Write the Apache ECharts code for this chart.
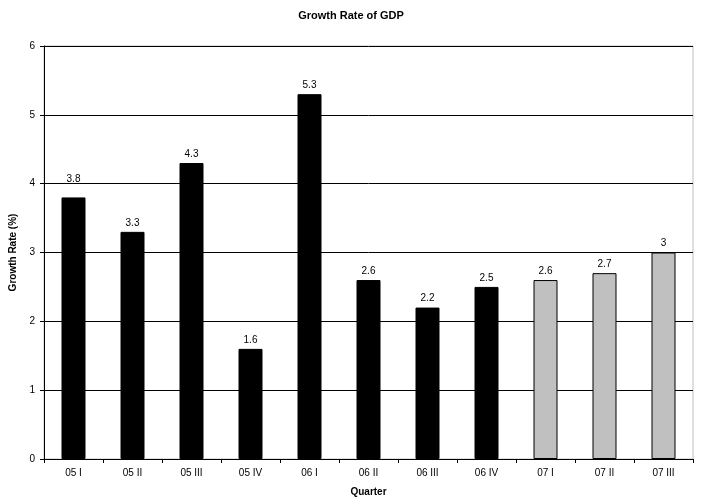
<!DOCTYPE html>
<html>
<head>
<meta charset="utf-8">
<script src="https://cdn.jsdelivr.net/npm/echarts@6/dist/echarts.min.js"></script>
<style>html,body{margin:0;padding:0;background:#fff;overflow:hidden;}#c{width:702px;height:502px;}</style>
</head>
<body>
<div id="c"></div>
<script>
const categories = ["05 I","05 II","05 III","05 IV","06 I","06 II","06 III","06 IV","07 I","07 II","07 III"];
const actualValues = [3.8, 3.3, 4.3, 1.6, 5.3, 2.6, 2.2, 2.5];
const projectedValues = [2.6, 2.7, 3];
const yTicks = [0, 1, 2, 3, 4, 5, 6];

const font = 'Liberation Sans, Arial, sans-serif';
const labelCfg = { show: true, position: 'top', distance: 4, fontFamily: font, fontSize: 10, color: '#000' };

// the first label sits a little higher in the original
const actualData = categories.map((c, i) => {
  if (i >= actualValues.length) return '-';
  if (i === 0) return { value: actualValues[i], label: { offset: [0, -9] } };
  return actualValues[i];
});
const projectedData = categories.map((c, i) => i >= actualValues.length ? projectedValues[i - actualValues.length] : '-');

const chart = echarts.init(document.getElementById('c'), null, { renderer: 'canvas' });
chart.setOption({
  animation: false,
  backgroundColor: '#fff',
  title: {
    text: 'Growth Rate of GDP', left: 'center', top: 5,
    textStyle: { fontFamily: font, fontSize: 11, fontWeight: 'bold', color: '#000' }
  },
  grid: { left: 44, right: 9, top: 46, bottom: 38, containLabel: false, show: true, borderColor: '#c0c0c0', borderWidth: 1, backgroundColor: 'transparent' },
  xAxis: {
    type: 'category', data: categories,
    name: 'Quarter', nameLocation: 'middle', nameGap: 28,
    nameTextStyle: { fontFamily: font, fontSize: 10, fontWeight: 'bold', color: '#000' },
    axisLine: { lineStyle: { color: '#000', width: 1 } },
    axisTick: { show: true, alignWithLabel: false, length: 4, lineStyle: { color: '#000' } },
    axisLabel: { fontFamily: font, fontSize: 10, color: '#000', margin: 9, interval: 0 }
  },
  yAxis: {
    type: 'value', min: yTicks[0], max: yTicks[yTicks.length - 1], interval: 1,
    name: 'Growth Rate (%)', nameLocation: 'middle', nameGap: 20,
    nameTextStyle: { fontFamily: font, fontSize: 10, fontWeight: 'bold', color: '#000' },
    axisLine: { show: true, lineStyle: { color: '#000', width: 1 } },
    axisTick: { show: true, length: 4, lineStyle: { color: '#000' } },
    axisLabel: { fontFamily: font, fontSize: 10, color: '#000', margin: 9 },
    splitLine: { show: true, lineStyle: { color: '#000', width: 1 } }
  },
  series: [
    {
      type: 'bar', data: actualData, barWidth: 24, barGap: '-100%',
      itemStyle: { color: '#000', borderColor: '#000', borderWidth: 1 },
      label: labelCfg
    },
    {
      type: 'bar', data: projectedData, barWidth: 24, barGap: '-100%',
      itemStyle: { color: '#c0c0c0', borderColor: '#000', borderWidth: 1 },
      label: labelCfg
    }
  ]
});
</script>
</body>
</html>
